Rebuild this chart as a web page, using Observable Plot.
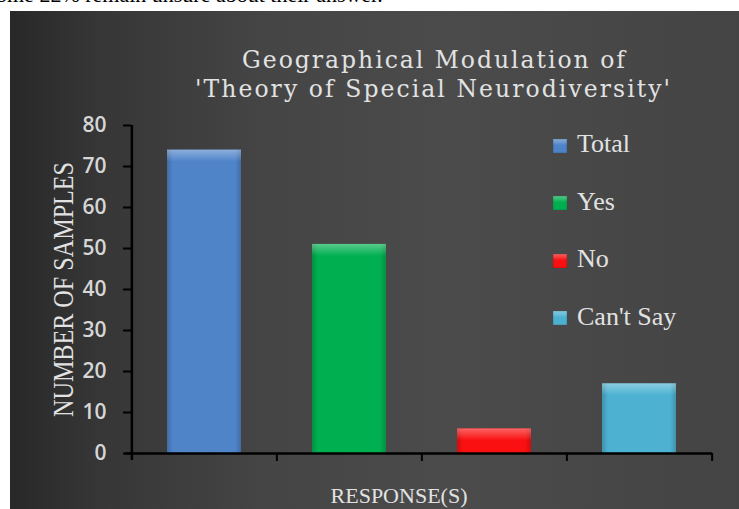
<!DOCTYPE html>
<html><head><meta charset="utf-8">
<script src="https://cdn.jsdelivr.net/npm/d3@7"></script>
<script src="https://cdn.jsdelivr.net/npm/@observablehq/plot@0.6"></script>
<style>
html,body{margin:0;padding:0;background:#fff;width:739px;height:509px;overflow:hidden;position:relative}
.abs{position:absolute;white-space:nowrap;line-height:1}
#panel{position:absolute;left:10px;top:11px;width:729px;height:498px;
 background:linear-gradient(90deg,#282828 0%,#363636 12%,#454545 35%,#4b4b4b 60%,#444444 100%);}
#panel svg{position:absolute;left:0;top:0}
.serif{font-family:"Liberation Serif","Times New Roman",serif;color:#e2e2e2}
</style></head><body>
<div class="abs" id="topclip" style="left:0;top:0;width:739px;height:11px;overflow:hidden"></div>
<div id="panel"></div>
<script>
// ---- data ----
const categories = ["Total", "Yes", "No", "Can't Say"];
const values = [74, 51, 6, 17];
const colors = ["#4f84c9", "#00b050", "#fa1010", "#4db2d1"];
const yTicks = [0, 10, 20, 30, 40, 50, 60, 70, 80];
const titleLines = ["Geographical Modulation of", "'Theory of Special Neurodiversity'"];
const yLabel = "NUMBER OF SAMPLES";
const xLabel = "RESPONSE(S)";
const topText = "ome 22% remain unsure about their answer.";

// ---- layout ----
const W = 729, H = 498, ML = 121, MR = 27, MT = 114, MB = 56;
const step = (W - ML - MR) / categories.length;
const data = categories.map((c, i) => ({cat: c, value: values[i]}));
const black = "#000";

const chart = Plot.plot({
  width: W, height: H,
  marginLeft: ML, marginRight: MR, marginTop: MT, marginBottom: MB,
  style: {background: "transparent", color: "#d6d6d6", fontFamily: "'Open Sans', sans-serif", overflow: "visible"},
  x: {domain: categories, paddingInner: 0.49, paddingOuter: 0.245, axis: null},
  y: {domain: [0, 80], ticks: yTicks, label: null},
  color: {domain: categories, range: colors},
  marks: [
    Plot.barY(data, {x: "cat", y: "value", fill: "cat"}),
    Plot.barY(data, {x: "cat", y: "value", fill: "url(#sideShade)"}),
    Plot.barY(data, {x: "cat", y1: "value", y2: "value", insetBottom: -12, fill: "url(#bevel)"}),
    Plot.axisY({ticks: yTicks, tickSize: 8, tickPadding: 17, fontSize: 21, fontWeight: 600, color: "#d6d6d6", stroke: black, strokeWidth: 2, label: null}),
    Plot.ruleY([0], {stroke: black, strokeWidth: 2.5, insetLeft: -6}),
    Plot.ruleX([categories[0]], {x: d => d, dx: -step / 2, stroke: black, strokeWidth: 2.5, insetBottom: -7}),
    Plot.ruleX(categories.slice(1), {x: d => d, dx: -step / 2, y1: 0, y2: 0, insetBottom: -8, stroke: black, strokeWidth: 2}),
    Plot.ruleX([categories[categories.length - 1]], {x: d => d, dx: step / 2, y1: 0, y2: 0, insetBottom: -8, stroke: black, strokeWidth: 2})
  ]
});

const defs = d3.select(chart).insert("defs", ":first-child");
const side = defs.append("linearGradient").attr("id", "sideShade").attr("x1", 0).attr("x2", 1).attr("y1", 0).attr("y2", 0);
side.append("stop").attr("offset", 0).attr("stop-color", "#000").attr("stop-opacity", 0.18);
side.append("stop").attr("offset", 0.08).attr("stop-color", "#000").attr("stop-opacity", 0);
side.append("stop").attr("offset", 0.92).attr("stop-color", "#000").attr("stop-opacity", 0);
side.append("stop").attr("offset", 1).attr("stop-color", "#000").attr("stop-opacity", 0.18);
const bev = defs.append("linearGradient").attr("id", "bevel").attr("x1", 0).attr("x2", 0).attr("y1", 0).attr("y2", 1);
bev.append("stop").attr("offset", 0).attr("stop-color", "#fff").attr("stop-opacity", 0.35);
bev.append("stop").attr("offset", 1).attr("stop-color", "#fff").attr("stop-opacity", 0);

const panel = document.getElementById("panel");
panel.appendChild(chart);

// ---- text overlays (page coordinates) ----
const ASC = 0.8375; // baseline offset for Liberation Serif with line-height 1
function addText(txt, fs, family) {
  const el = document.createElement("div");
  el.className = "abs serif";
  el.textContent = txt;
  el.style.fontSize = fs + "px";
  if (family) el.style.fontFamily = family;
  document.body.appendChild(el);
  return el;
}
// title lines, fitted with letter-spacing
const titleSpecs = [{l: 242, r: 625, base: 69}, {l: 195, r: 670, base: 98}];
titleLines.forEach((t, i) => {
  const fs = 23.5, s = titleSpecs[i];
  const el = addText(t, fs, "'DejaVu Serif', serif");
  const w = el.getBoundingClientRect().width;
  const ls = (s.r - s.l - w) / (t.length - 1);
  el.style.letterSpacing = ls + "px";
  el.style.left = s.l + "px";
  el.style.top = (s.base - 0.846 * fs) + "px";
});
// x label
{
  const fs = 22, el = addText(xLabel, fs);
  const w = el.getBoundingClientRect().width;
  el.style.left = (399 - w / 2) + "px";
  el.style.top = (503 - ASC * fs) + "px";
}
// y label
{
  const fs = 29, el = addText(yLabel, fs);
  const w = el.getBoundingClientRect().width;
  const sc = 255 / w;
  el.style.left = (63 - w / 2) + "px";
  el.style.top = (289.5 - fs / 2) + "px";
  el.style.transformOrigin = "50% 50%";
  el.style.transform = `rotate(-90deg) scaleX(${sc})`;
}
// legend
const legendCenters = [145.5, 203, 260.5, 318];
categories.forEach((c, i) => {
  const cy = legendCenters[i];
  const sw = document.createElement("div");
  sw.className = "abs";
  Object.assign(sw.style, {left: "553px", top: (cy - 7) + "px", width: "14px", height: "14px",
    background: `linear-gradient(180deg, rgba(255,255,255,0.35) 0%, rgba(255,255,255,0) 45%), ${colors[i]}`,
    boxShadow: "inset 0 0 2px rgba(0,0,0,0.35)"});
  document.body.appendChild(sw);
  const fs = 26, el = addText(c, fs);
  el.style.left = "577px";
  el.style.top = (cy + 7.5 - ASC * fs) + "px";
});
// clipped text line above the panel (cut off at the page top, as in the reference)
{
  const el = document.createElement("div");
  el.className = "abs";
  el.textContent = topText;
  Object.assign(el.style, {fontFamily: "'Liberation Serif', serif", fontSize: "22px", color: "#000", left: "-4px", top: (2 - ASC * 22) + "px"});
  document.getElementById("topclip").appendChild(el);
}
</script>
</body></html>
